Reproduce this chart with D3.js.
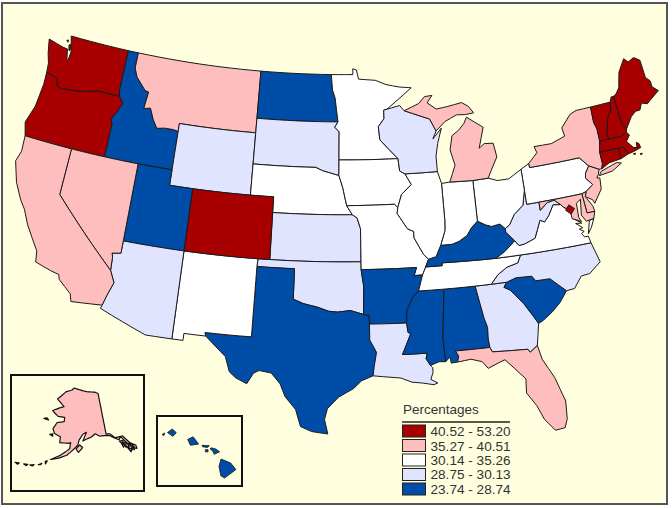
<!DOCTYPE html>
<html>
<head>
<meta charset="utf-8">
<script src="https://cdn.jsdelivr.net/npm/d3@7"></script>
<style>
html, body { margin: 0; padding: 0; background: #fff; }
svg { display: block; }
text { font-family: "Liberation Sans", Arial, sans-serif; fill: #333; }
</style>
</head>
<body>
<script>
"use strict";

///////////////////
// data
///////////////////
var legendTitle = "Percentages";
var classLabels = ["40.52 - 53.20", "35.27 - 40.51", "30.14 - 35.26", "28.75 - 30.13", "23.74 - 28.74"];
var classColors = ["#a80000", "#ffbebe", "#ffffff", "#e1e4ff", "#004da8"];

// class index of each state, same order as classLabels
var classStates = [
    ["WA", "OR", "CO", "ME", "NH", "VT", "MA", "CT", "RI", "DC"],
    ["MT", "CA", "NV", "NY", "MI", "FL", "NJ", "MD", "DE", "AK"],
    ["MN", "IA", "MO", "IL", "IN", "OH", "PA", "NE", "NM", "VA", "TN"],
    ["WY", "SD", "KS", "OK", "AZ", "LA", "GA", "NC", "WV", "WI"],
    ["ID", "ND", "UT", "TX", "AR", "MS", "AL", "SC", "KY", "HI"]
];

// outlines as lon/lat rings, read by eye
var lower48 = {
    WA: [[[-124.7,48.4],[-123.2,48.15],[-122.75,48.12],[-122.55,47.5],[-122.42,47.4],[-122.35,48],[-122.75,49],[-117.03,49],[-117.04,46.42],[-116.92,45.99],[-118.98,46],[-119.3,45.93],[-120.5,45.7],[-121.2,45.65],[-122.3,45.55],[-122.75,45.65],[-122.9,46.1],[-123.4,46.2],[-124,46.27],[-124.1,46.9],[-124.4,47.5]],
         [[-122.72,48.4],[-122.58,48.45],[-122.48,48.1],[-122.58,48.05]],
         [[-123.05,48.65],[-122.92,48.7],[-122.88,48.55]]],
    OR: [[[-124,46.27],[-123.4,46.2],[-122.9,46.1],[-122.75,45.65],[-122.3,45.55],[-121.2,45.65],[-120.5,45.7],[-119.3,45.93],[-118.98,46],[-116.92,45.99],[-116.46,45.6],[-116.85,44.95],[-117.2,44.45],[-117.03,44.2],[-117.03,42],[-124.2,42],[-124.55,42.84],[-124.1,44],[-123.95,45.5]]],
    ID: [[[-117.03,49],[-116.05,49],[-116.05,48],[-115.7,47.45],[-114.7,46.7],[-114.35,46.65],[-114.5,45.55],[-113.9,45.65],[-113.45,44.95],[-113,44.45],[-112.3,44.55],[-111.5,44.55],[-111.05,44.48],[-111.05,42],[-117.03,42],[-117.03,44.2],[-117.2,44.45],[-116.85,44.95],[-116.46,45.6],[-116.92,45.99],[-117.04,46.42]]],
    MT: [[[-116.05,49],[-104.05,49],[-104.05,45],[-111.05,45],[-111.05,44.48],[-111.5,44.55],[-112.3,44.55],[-113,44.45],[-113.45,44.95],[-113.9,45.65],[-114.5,45.55],[-114.35,46.65],[-114.7,46.7],[-115.7,47.45],[-116.05,48]]],
    WY: [[[-111.05,45],[-104.05,45],[-104.05,41],[-111.05,41]]],
    ND: [[[-104.05,49],[-97.23,49],[-97.1,48],[-96.85,47.5],[-96.56,45.94],[-104.05,45.94]]],
    SD: [[[-104.05,45.94],[-96.56,45.94],[-96.85,45.6],[-96.45,45.3],[-96.45,43.5],[-96.45,42.5],[-97.9,42.8],[-98.5,43],[-104.05,43]]],
    NE: [[[-104.05,43],[-98.5,43],[-97.9,42.8],[-96.45,42.5],[-96.1,41.7],[-95.9,41],[-95.77,40.58],[-95.3,40],[-102.05,40],[-102.05,41],[-104.05,41]]],
    KS: [[[-102.05,40],[-95.3,40],[-94.9,39.8],[-94.62,39.1],[-94.62,37],[-102.04,37]]],
    OK: [[[-103,37],[-94.62,37],[-94.62,36.5],[-94.43,35.4],[-94.48,33.64],[-95.5,33.9],[-96.5,33.8],[-97.2,33.85],[-98.1,34.1],[-99.2,34.3],[-100,34.56],[-100,36.5],[-103.04,36.5]]],
    TX: [[[-103.04,36.5],[-100,36.5],[-100,34.56],[-99.2,34.3],[-98.1,34.1],[-97.2,33.85],[-96.5,33.8],[-95.5,33.9],[-94.48,33.64],[-94.04,33.55],[-94.04,32],[-93.55,31.2],[-93.75,30.3],[-93.85,29.7],[-94.7,29.4],[-95.3,28.9],[-96.4,28.35],[-97.2,27.6],[-97.4,26.9],[-97.15,25.96],[-98.3,26.1],[-99.1,26.4],[-99.5,27.5],[-100.3,28.3],[-100.7,29.1],[-101.4,29.77],[-102.3,29.88],[-102.7,29.7],[-103.15,28.98],[-104,29.3],[-104.5,29.65],[-104.9,30.6],[-106,31.4],[-106.53,31.78],[-106.62,32],[-103.06,32]]],
    NM: [[[-109.05,37],[-103,37],[-103.04,36.5],[-103.06,32],[-106.62,32],[-106.53,31.78],[-108.2,31.78],[-108.2,31.33],[-109.05,31.33]]],
    CO: [[[-109.05,41],[-102.05,41],[-102.05,40],[-102.04,37],[-103,37],[-109.05,37]]],
    UT: [[[-111.05,42],[-111.05,41],[-109.05,41],[-109.05,37],[-114.05,37],[-114.05,42]]],
    AZ: [[[-114.05,37],[-109.05,37],[-109.05,31.33],[-111.07,31.33],[-114.8,32.5],[-114.72,32.72],[-114.5,33.4],[-114.15,34.27],[-114.6,35],[-114.65,35.85],[-114.75,36.1],[-114.05,36.2]]],
    NV: [[[-120,42],[-114.05,42],[-114.05,37],[-114.05,36.2],[-114.75,36.1],[-114.65,35.85],[-114.6,35],[-120,39]]],
    CA: [[[-124.2,42],[-120,42],[-120,39],[-114.6,35],[-114.15,34.27],[-114.5,33.4],[-114.72,32.72],[-117.12,32.53],[-117.3,33],[-118.4,33.75],[-118.5,34.03],[-119.2,34.15],[-120.5,34.45],[-120.65,35.15],[-121.9,36.6],[-122.5,37.5],[-123,38],[-123.75,39],[-124.35,40.3],[-124.1,41]]],
    MN: [[[-97.23,49],[-95.15,49],[-95.15,49.38],[-94.8,49.3],[-94.6,48.7],[-93,48.6],[-92,48.3],[-90.75,48.1],[-89.6,48],[-92,46.7],[-92.3,46.65],[-92.3,46.1],[-92.85,45.6],[-92.75,44.75],[-91.2,43.5],[-96.45,43.5],[-96.45,45.3],[-96.85,45.6],[-96.56,45.94],[-96.85,47.5],[-97.1,48]]],
    IA: [[[-96.45,43.5],[-91.2,43.5],[-91.1,42.7],[-90.65,42.5],[-90.15,41.8],[-91.05,41.2],[-91.42,40.38],[-91.7,40.6],[-95.77,40.58],[-95.9,41],[-96.1,41.7],[-96.45,42.5]]],
    MO: [[[-95.77,40.58],[-91.7,40.6],[-91.42,40.38],[-91.5,40],[-90.7,39],[-90.2,38.8],[-90.2,38.4],[-89.5,37.3],[-89.13,36.98],[-89.4,36.5],[-89.7,36],[-90.37,36],[-90.15,36.5],[-94.62,36.5],[-94.62,37],[-94.62,39.1],[-94.9,39.8],[-95.3,40]]],
    AR: [[[-94.62,36.5],[-90.15,36.5],[-90.37,36],[-89.7,36],[-90.1,35],[-90.6,34.6],[-91.1,33.8],[-91.17,33],[-94.04,33.02],[-94.04,33.55],[-94.48,33.64],[-94.43,35.4]]],
    LA: [[[-94.04,33.02],[-91.17,33],[-91.1,32.4],[-90.9,32.3],[-91.6,31],[-89.73,31],[-89.85,30.65],[-89.55,30.2],[-89.4,30.05],[-89.4,29.75],[-89.6,29.3],[-89.1,29.05],[-89.4,28.95],[-90.2,29.1],[-91,29.2],[-91.8,29.5],[-92.3,29.55],[-93.85,29.7],[-93.75,30.3],[-93.55,31.2],[-94.04,32]]],
    MS: [[[-90.1,35],[-88.2,35],[-88.1,34.9],[-88.47,31.9],[-88.4,30.37],[-88.9,30.4],[-89.55,30.2],[-89.85,30.65],[-89.73,31],[-91.6,31],[-90.9,32.3],[-91.1,32.4],[-91.17,33],[-91.1,33.8],[-90.6,34.6]]],
    AL: [[[-88.2,35],[-85.6,35],[-85.18,32.87],[-85,32.3],[-85.05,31.55],[-85,31],[-87.6,31],[-87.4,30.65],[-87.52,30.28],[-88,30.25],[-88.05,30.65],[-88.4,30.37],[-88.47,31.9],[-88.1,34.9]]],
    GA: [[[-85.6,35],[-84.32,35],[-83.1,35],[-83.35,34.7],[-82.9,34.48],[-82,33.5],[-81.4,32.6],[-81.1,32.1],[-81.45,30.72],[-82.05,30.36],[-82.2,30.57],[-84.86,30.7],[-85,31],[-85.05,31.55],[-85,32.3],[-85.18,32.87]]],
    FL: [[[-87.6,31],[-85,31],[-84.86,30.7],[-82.2,30.57],[-82.05,30.36],[-81.45,30.72],[-81.25,29.8],[-80.55,28.5],[-80.05,26.9],[-80.15,25.75],[-80.4,25.2],[-81.1,25.13],[-81.75,25.95],[-82.15,26.9],[-82.75,27.8],[-82.65,28.7],[-83.4,29.5],[-84,30.1],[-84.35,30],[-85.3,29.68],[-85.7,30.15],[-86.5,30.38],[-87.52,30.28],[-87.4,30.65]]],
    SC: [[[-83.1,35],[-82.3,35.2],[-81.05,35.15],[-80.8,34.82],[-79.67,34.8],[-78.55,33.86],[-79.2,33.2],[-79.9,32.7],[-80.7,32.25],[-81.1,32.1],[-81.4,32.6],[-82,33.5],[-82.9,34.48],[-83.35,34.7]]],
    NC: [[[-84.32,35],[-83.1,35],[-82.3,35.2],[-81.05,35.15],[-80.8,34.82],[-79.67,34.8],[-78.55,33.86],[-77.9,33.9],[-77.2,34.6],[-76.5,34.65],[-75.5,35.25],[-75.9,36.55],[-81.68,36.59],[-82,36.12],[-82.9,35.95],[-83.7,35.55]]],
    TN: [[[-90.1,35],[-88.2,35],[-85.6,35],[-84.32,35],[-83.7,35.55],[-82.9,35.95],[-82,36.12],[-81.68,36.59],[-83.68,36.6],[-88.07,36.68],[-88.07,36.5],[-89.4,36.5],[-89.7,36]]],
    KY: [[[-89.4,36.5],[-88.07,36.5],[-88.07,36.68],[-83.68,36.6],[-82.9,36.95],[-81.97,37.54],[-82.6,38.17],[-82.6,38.4],[-83,38.73],[-83.7,38.65],[-84.2,38.8],[-84.82,39.1],[-85.4,38.7],[-85.8,38.27],[-86.5,37.95],[-87.1,37.8],[-88.05,37.8],[-88.5,37.1],[-89.13,36.98]]],
    VA: [[[-83.68,36.6],[-81.68,36.59],[-75.9,36.55],[-76,37],[-76.3,37],[-76.5,37.25],[-76.25,37.35],[-76.6,37.55],[-76.3,37.6],[-76.8,37.95],[-76.3,37.9],[-76.95,38.3],[-77.04,38.79],[-77.12,38.93],[-77.5,39.1],[-77.72,39.32],[-78.35,39.4],[-78.87,38.77],[-79.3,38.42],[-79.65,38.58],[-80.3,37.5],[-81.2,37.25],[-81.68,37.2],[-81.97,37.54],[-82.9,36.95]],
         [[-75.95,37.15],[-75.6,37.5],[-75.25,38.03],[-75.65,37.95]]],
    WV: [[[-82.6,38.17],[-81.97,37.54],[-81.68,37.2],[-81.2,37.25],[-80.3,37.5],[-79.65,38.58],[-79.3,38.42],[-78.87,38.77],[-78.35,39.4],[-77.72,39.32],[-78.2,39.68],[-78.8,39.6],[-79.48,39.2],[-79.48,39.72],[-80.52,39.72],[-80.52,40.64],[-80.85,39.7],[-81.7,39.2],[-82.2,38.6],[-82.6,38.4]]],
    PA: [[[-80.52,41.98],[-79.76,42.27],[-79.76,42],[-75.35,42],[-74.7,41.36],[-75.1,40.95],[-75.2,40.65],[-74.72,40.15],[-75.4,39.8],[-75.79,39.72],[-79.48,39.72],[-80.52,39.72],[-80.52,40.64]]],
    NY: [[[-79.76,42.27],[-78.9,42.85],[-79.05,43.27],[-77.5,43.25],[-76.2,43.55],[-76.3,44.1],[-75.3,44.85],[-74.7,45],[-73.35,45],[-73.4,44],[-73.25,43.55],[-73.27,42.75],[-73.5,42.05],[-73.5,41.3],[-73.65,41],[-73.9,41],[-74.7,41.36],[-75.35,42],[-79.76,42]],
         [[-74,40.6],[-73.75,40.85],[-72.3,41.15],[-71.9,41.05],[-72.8,40.7]]],
    NJ: [[[-73.9,41],[-74.7,41.36],[-75.1,40.95],[-75.2,40.65],[-74.72,40.15],[-75.4,39.8],[-75.55,39.5],[-75,39.2],[-74.9,38.95],[-74.1,39.75],[-74,40.45],[-74.25,40.5],[-74.05,40.7]]],
    DE: [[[-75.79,39.72],[-75.4,39.8],[-75.55,39.5],[-75.1,38.8],[-75.05,38.45],[-75.7,38.46]]],
    MD: [[[-79.48,39.72],[-75.79,39.72],[-75.7,38.46],[-75.05,38.45],[-75.25,38.03],[-75.9,37.95],[-76.2,38.4],[-76,39.4],[-76.4,39.2],[-76.45,38.3],[-76.3,38],[-77,38.3],[-77.04,38.79],[-77.12,38.93],[-77.5,39.1],[-77.72,39.32],[-78.2,39.68],[-78.8,39.6],[-79.48,39.2]]],
    DC: [[[-77.4,38.9],[-77.05,39.2],[-76.65,38.9],[-77,38.6]]],
    CT: [[[-73.5,42.05],[-71.8,42.02],[-71.85,41.32],[-72.9,41.25],[-73.65,41],[-73.5,41.3]]],
    RI: [[[-71.8,42.02],[-71.38,42.02],[-71.12,41.5],[-71.85,41.32]]],
    MA: [[[-73.27,42.75],[-72.46,42.73],[-71.3,42.7],[-70.8,42.87],[-70.6,42.65],[-71,42.3],[-70.55,41.8],[-70.25,41.75],[-70.2,42.07],[-70,41.95],[-69.95,41.68],[-70.65,41.55],[-71.12,41.5],[-71.38,42.02],[-71.8,42.02],[-73.5,42.05]],
         [[-70.7,41.42],[-70.5,41.42],[-70.58,41.34]],
         [[-70.15,41.3],[-69.95,41.3],[-70.05,41.22]]],
    VT: [[[-73.35,45],[-71.5,45],[-71.6,44.5],[-72.05,44.1],[-72.45,43.2],[-72.46,42.73],[-73.27,42.75],[-73.25,43.55],[-73.4,44]]],
    NH: [[[-71.5,45],[-71.3,45.3],[-71.08,45.3],[-70.98,43.4],[-70.7,43.07],[-70.8,42.87],[-71.3,42.7],[-72.46,42.73],[-72.45,43.2],[-72.05,44.1],[-71.6,44.5]]],
    ME: [[[-71.08,45.3],[-70.8,45.4],[-70.4,45.75],[-70,46.7],[-69.23,47.46],[-68.9,47.18],[-68.3,47.35],[-67.8,47.07],[-67.78,45.9],[-67.45,45.6],[-67.45,45.2],[-67,44.85],[-68,44.4],[-68.3,44.25],[-68.8,44.4],[-69.1,44],[-69.5,44],[-70,43.75],[-70.7,43.07],[-70.98,43.4]]],
    OH: [[[-84.8,41.7],[-83.45,41.73],[-82.7,41.5],[-81.7,41.5],[-80.52,41.98],[-80.52,40.64],[-80.85,39.7],[-81.7,39.2],[-82.2,38.6],[-82.6,38.4],[-83,38.73],[-83.7,38.65],[-84.2,38.8],[-84.82,39.1]]],
    IN: [[[-87.53,41.72],[-86.8,41.76],[-84.8,41.7],[-84.82,39.1],[-85.4,38.7],[-85.8,38.27],[-86.5,37.95],[-87.1,37.8],[-88.05,37.8],[-87.6,38.7],[-87.53,39.35]]],
    IL: [[[-90.65,42.5],[-87.8,42.5],[-87.53,41.72],[-87.53,39.35],[-87.6,38.7],[-88.05,37.8],[-88.5,37.1],[-89.13,36.98],[-89.5,37.3],[-90.2,38.4],[-90.2,38.8],[-90.7,39],[-91.5,40],[-91.42,40.38],[-91.05,41.2],[-90.15,41.8]]],
    WI: [[[-92.3,46.65],[-90.8,46.9],[-90.4,46.55],[-88.1,45.9],[-87.6,45.1],[-87.95,44.6],[-87.1,45.25],[-87.55,44.3],[-87.8,43.5],[-87.8,42.5],[-90.65,42.5],[-91.1,42.7],[-91.2,43.5],[-92.75,44.75],[-92.85,45.6],[-92.3,46.1]]],
    MI: [[[-86.8,41.76],[-84.8,41.7],[-83.45,41.73],[-83.1,42.2],[-82.45,43],[-82.6,43.9],[-83.4,43.95],[-83.9,43.7],[-83.3,45],[-84.7,45.78],[-85,45.4],[-85.55,45],[-86.2,44.7],[-86.5,43.8],[-86.2,42.8]],
         [[-90.4,46.55],[-89,46.95],[-88.4,47.37],[-87.7,47.4],[-88.2,46.95],[-87.4,46.5],[-86.3,46.6],[-85,46.75],[-84.4,46.45],[-84,46],[-84.75,45.95],[-85.6,46],[-86.7,45.65],[-87.6,45.1],[-88.1,45.9]]]
};

var alaska = [
    [[-141,69.65],[-143,70.1],[-148,70.4],[-152,70.85],[-156.5,71.35],[-158,70.85],[-162,70.3],[-166.5,68.4],[-164,67.6],[-162,66.9],[-164,66.55],[-168,65.6],[-164.5,64.5],[-161,64.5],[-161,63.5],[-164.5,63.1],[-166,61.6],[-165,60.6],[-162,60],[-162,58.7],[-158,58.7],[-157.2,58.9],[-157.5,57.5],[-161,55.9],[-164.8,54.6],[-162,55.1],[-158.5,56],[-156,57.3],[-154,58.4],[-153.5,59.5],[-151.7,60.8],[-150,61.2],[-151.8,59.3],[-150,59.7],[-148,60],[-146,60.7],[-144,60],[-141,59.95],[-139.5,59.7],[-137.5,58.9],[-136,58.3],[-135,58.9],[-133,57],[-131,55.5],[-130,55.2],[-130,56],[-132,57],[-134,58.9],[-137.5,59],[-139.2,60.1],[-141,60.3]],
    [[-154.8,57.5],[-153.2,58.4],[-152,57.8],[-153.8,56.7]],
    [[-171.5,63.4],[-169,63.3],[-170,63.7]],
    [[-167,60.2],[-165.5,59.9],[-165.7,60.4]],
    [[-136,58],[-134.5,57.9],[-135,57.1]],
    [[-134.5,57.5],[-133.5,57.2],[-134,56.2]],
    [[-133.6,56.3],[-131.8,55.3],[-132.8,55.1]],
    [[-133,57],[-132,56.3],[-132.9,56.2]],
    [[-132.3,57],[-131,56.2],[-131.8,55.9]],
    [[-135.5,57.6],[-134.3,56.8],[-135,56.4]],
    [[-133.4,55.9],[-132,55.6],[-132.6,54.9]],
    [[-131.9,55.6],[-130.8,55.9],[-131.2,55.1]],
    [[-166.7,54],[-165.9,54.2],[-166.4,53.4]],
    [[-169,52.9],[-167.8,53.4],[-168.2,53]],
    [[-174.3,52.2],[-172.8,52.4],[-173.2,52]],
    [[-177.5,51.9],[-176,52.1],[-176.4,51.7]],
    [[-172,52.4],[-170.5,52.7],[-171,52.3]]
];

var hawaii = [
    [[-155.9,20.25],[-155.2,19.98],[-154.82,19.52],[-155.65,18.95],[-155.92,19.1],[-156.05,19.75]],
    [[-156.7,20.95],[-156.6,21.03],[-156.25,20.93],[-156,20.75],[-156.4,20.58],[-156.5,20.8]],
    [[-157.3,21.2],[-156.75,21.17],[-156.9,21.05],[-157.25,21.1]],
    [[-157.05,20.9],[-156.85,20.9],[-156.85,20.75],[-157.05,20.75]],
    [[-158.35,21.6],[-157.95,21.78],[-157.55,21.28],[-158.15,21.2]],
    [[-159.85,22.05],[-159.5,22.3],[-159.2,22.05],[-159.45,21.8]],
    [[-160.25,21.9],[-160.07,22.02],[-160.1,21.85]]
];

///////////////////
// functions
///////////////////

// linear steps in lon/lat so that state lines follow the parallels
function densify(ring) {
    var out = [];
    ring.forEach(function(p, i) {
        var q = ring[(i + 1) % ring.length];
        var n = Math.ceil(Math.max(Math.abs(q[0] - p[0]), Math.abs(q[1] - p[1])));
        for (var k = 0; k < n; k++) {
            out.push([p[0] + (q[0] - p[0]) * k / n, p[1] + (q[1] - p[1]) * k / n]);
        }
    });
    out.push(out[0]);
    // d3.geo wants the small side inside
    if (d3.geoArea({type: "Polygon", coordinates: [out]}) > 2 * Math.PI) out.reverse();
    return out;
}

function toFeature(id, rings) {
    return {
        type: "Feature",
        id: id,
        geometry: {type: "MultiPolygon", coordinates: rings.map(function(r) { return [densify(r)]; })}
    };
}

function stateClass(id) {
    return classStates.findIndex(function(list) { return list.indexOf(id) >= 0; });
}

function setColor(d) {
    return classColors[stateClass(d.id)];
}

///////////////////
// Visualize Data
///////////////////
var width = 672, height = 508;
var svg = d3.select("body").append("svg").attr("width", width).attr("height", height);

svg.append("rect")
    .attr("x", 2).attr("y", 3).attr("width", 665).attr("height", 501)
    .attr("fill", "#ffffe0").attr("stroke", "#555").attr("stroke-width", 2);

var features = Object.keys(lower48).map(function(id) { return toFeature(id, lower48[id]); });
var projection = d3.geoAlbers()
    .fitExtent([[15, 36], [659, 434]], {type: "FeatureCollection", features: features});

svg.append("g").selectAll("path")
    .data(features)
    .enter()
    .append("path")
    .attr("d", d3.geoPath(projection))
    .attr("fill", setColor)
    .attr("stroke", "#1a1a1a")
    .attr("stroke-width", 1)
    .attr("stroke-linejoin", "round");

// inset frames
function insetFrame(x, y, w, h) {
    svg.append("rect")
        .attr("x", x).attr("y", y).attr("width", w).attr("height", h)
        .attr("fill", "none").attr("stroke", "#111").attr("stroke-width", 2);
}
insetFrame(11, 375, 133, 116);
insetFrame(157, 416, 85, 70);

var akFeature = toFeature("AK", alaska);
var akProjection = d3.geoConicEqualArea()
    .rotate([154, 0]).parallels([55, 65])
    .fitExtent([[15, 388], [137, 466]], akFeature);
svg.append("path").datum(akFeature)
    .attr("d", d3.geoPath(akProjection))
    .attr("fill", setColor)
    .attr("stroke", "#111").attr("stroke-width", 1.2).attr("stroke-linejoin", "round");

var hiFeature = toFeature("HI", hawaii);
var hiProjection = d3.geoConicEqualArea()
    .rotate([157, 0]).parallels([19, 22])
    .fitExtent([[161, 429], [237, 478]], hiFeature);
svg.append("path").datum(hiFeature)
    .attr("d", d3.geoPath(hiProjection))
    .attr("fill", setColor)
    .attr("stroke", "#111").attr("stroke-width", 0.8).attr("stroke-linejoin", "round");

// legend
var legendY = d3.scaleBand().domain(d3.range(classLabels.length)).range([425, 495]).paddingInner(0.172);
var legend = svg.append("g");
legend.append("text")
    .attr("x", 403).attr("y", 414)
    .attr("font-size", 13.5)
    .text(legendTitle);
legend.append("line")
    .attr("x1", 402).attr("x2", 510).attr("y1", 422).attr("y2", 422)
    .attr("stroke", "#222").attr("stroke-width", 1.5);
var rows = legend.selectAll("g.row")
    .data(classLabels)
    .enter()
    .append("g")
    .attr("class", "row");
rows.append("rect")
    .attr("x", 402.5)
    .attr("y", function(d, i) { return legendY(i); })
    .attr("width", 23)
    .attr("height", legendY.bandwidth())
    .attr("fill", function(d, i) { return classColors[i]; })
    .attr("stroke", "#222");
rows.append("text")
    .attr("x", 430.5)
    .attr("y", function(d, i) { return legendY(i) + legendY.bandwidth() / 2 + 5; })
    .attr("font-size", 13.6)
    .text(function(d) { return d; });
</script>
</body>
</html>
